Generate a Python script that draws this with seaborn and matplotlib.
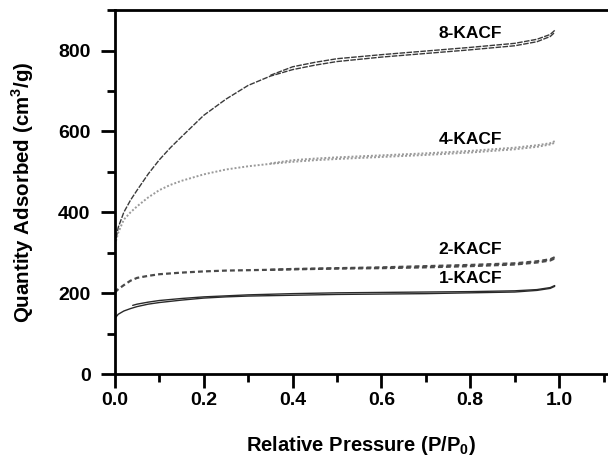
import matplotlib
matplotlib.use("Agg")
import matplotlib.pyplot as plt
import seaborn as sns
from matplotlib.ticker import MultipleLocator

# Data (adsorption + desorption branches)
p_ads = [0.0, 0.0075, 0.02, 0.035, 0.05, 0.075, 0.1, 0.125, 0.15, 0.2, 0.25,
         0.3, 0.35, 0.4, 0.45, 0.5, 0.6, 0.7, 0.8, 0.9, 0.95, 0.98, 0.99]
p_des = [0.99, 0.98, 0.95, 0.9, 0.8, 0.7, 0.6, 0.5, 0.45, 0.4, 0.35]

kacf8_ads = [320, 363, 400, 430, 455, 495, 530, 560, 587, 640, 680,
             714, 737, 753, 764, 773, 784, 793, 802, 812, 822, 835, 845]
kacf8_des = [850, 840, 828, 818, 808, 799, 790, 780, 771, 760, 739]

kacf4_ads = [320, 350, 382, 400, 415, 437, 455, 468, 478, 494, 506,
             514, 520, 525, 529, 532, 537, 542, 548, 556, 562, 568, 572]
kacf4_des = [576, 571, 566, 560, 552, 546, 541, 536, 533, 529, 521]

kacf2_ads = [202, 210, 220, 231, 238, 243, 247, 249, 251, 254, 256,
             257, 258, 259, 260, 261, 262, 264, 267, 271, 276, 281, 286]
kacf2_des = [289, 284, 279, 274, 270, 267, 264, 262, 261, 260, 258]

p1_des = [0.99, 0.98, 0.95, 0.9, 0.8, 0.7, 0.6, 0.5, 0.4, 0.3, 0.2,
          0.15, 0.1, 0.075, 0.05, 0.04]
kacf1_ads = [138, 148, 156, 162, 167, 173, 177, 180, 183, 188, 191,
             193, 194, 195, 196, 197, 198, 199, 201, 203, 207, 212, 217]
kacf1_des = [219, 214, 209, 206, 204, 203, 202, 201, 199, 196, 191,
             187, 182, 178, 173, 170]

labels = ["8-KACF", "4-KACF", "2-KACF", "1-KACF"]
label_x = [0.80, 0.80, 0.80, 0.80]
label_y = [843, 580, 307, 236]

sns.set_style("ticks")
plt.rcParams["font.family"] = ["Liberation Sans", "DejaVu Sans"]
plt.rcParams["font.weight"] = "bold"
plt.rcParams["text.color"] = "black"
plt.rcParams["axes.labelcolor"] = "black"
plt.rcParams["xtick.color"] = "black"
plt.rcParams["ytick.color"] = "black"
plt.rcParams["mathtext.fontset"] = "custom"
plt.rcParams["mathtext.rm"] = "Liberation Sans:bold"
plt.rcParams["mathtext.bf"] = "Liberation Sans:bold"

fig = plt.figure(figsize=(6.08, 4.63), dpi=100)
ax = fig.add_axes([0.189, 0.192, 0.811, 0.786])

styles = [
    dict(color="#3a3a3a", linestyle=(0, (4, 1)), linewidth=1.0),
    dict(color="#9a9a9a", linestyle=(0, (1, 1)), linewidth=1.4),
    dict(color="#4a4a4a", linestyle=(0, (2.2, 1.4)), linewidth=1.6),
    dict(color="#2a2a2a", linestyle="-", linewidth=1.0),
]
series = [
    (p_ads, kacf8_ads, p_des, kacf8_des),
    (p_ads, kacf4_ads, p_des, kacf4_des),
    (p_ads, kacf2_ads, p_des, kacf2_des),
    (p_ads, kacf1_ads, p1_des, kacf1_des),
]
for (xa, ya, xd, yd), st in zip(series, styles):
    sns.lineplot(x=xa, y=ya, ax=ax, sort=False, estimator=None, **st)
    sns.lineplot(x=xd, y=yd, ax=ax, sort=False, estimator=None, **st)

for t, x, y in zip(labels, label_x, label_y):
    ax.text(x, y, t, ha="center", va="center", fontsize=12.5, fontweight="bold")

ax.set_xlim(0, 1.11)
ax.set_ylim(0, 900)
ax.xaxis.set_minor_locator(MultipleLocator(0.1))
ax.yaxis.set_major_locator(MultipleLocator(200))
ax.yaxis.set_minor_locator(MultipleLocator(100))
ax.set_xticks([0.0, 0.2, 0.4, 0.6, 0.8, 1.0])
ax.set_xticklabels(["0.0", "0.2", "0.4", "0.6", "0.8", "1.0"])

ax.tick_params(which="major", length=10, width=2, labelsize=14, direction="out")
ax.tick_params(which="minor", length=5.5, width=2, direction="out")
ax.tick_params(axis="x", which="major", pad=3)
ax.tick_params(axis="y", which="major", pad=7.5)
for lab in ax.get_xticklabels() + ax.get_yticklabels():
    lab.set_fontweight("bold")

for s in ["left", "bottom", "top"]:
    ax.spines[s].set_linewidth(2)
    ax.spines[s].set_color("black")
ax.spines["right"].set_visible(False)

ax.set_xlabel(r"Relative Pressure (P/P$_0$)", fontsize=14.5, fontweight="bold")
ax.set_ylabel(r"Quantity Adsorbed (cm$^3$/g)", fontsize=14.8, fontweight="bold")
ax.xaxis.set_label_coords(0.5, -0.165)
ax.yaxis.set_label_coords(-0.160, 0.5)

fig.savefig("out.png", dpi=100)
